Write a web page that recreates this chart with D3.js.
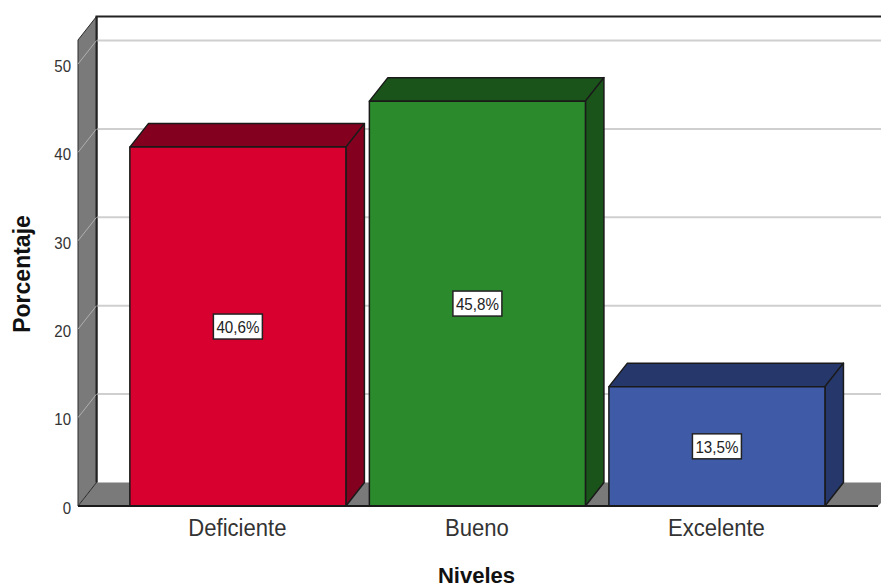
<!DOCTYPE html>
<html lang="es">

<head>
    <meta charset="UTF-8">
    <title>Niveles</title>
    <script src="https://d3js.org/d3.v7.min.js"></script>
    <style>
        body {
            margin: 0;
            background-color: #ffffff;
        }

        svg {
            display: block;
        }

        text {
            font-family: 'Liberation Sans', Arial, sans-serif;
            fill: #333333;
        }
    </style>
</head>

<body>
    <svg></svg>

    <script>
        const categories = ["Deficiente", "Bueno", "Excelente"];
        const percentages = [40.6, 45.8, 13.5];
        const valueLabels = ["40,6%", "45,8%", "13,5%"];
        const yTicks = [0, 10, 20, 30, 40, 50];
        const frontColors = ["#d7002e", "#2a8a2c", "#3f5ba8"];
        const darkColors = ["#84001f", "#1a541a", "#26386b"];

        const width = 881;
        const height = 588;
        const depthX = 18.5;   // 3d offset of the back wall
        const depthY = 23.5;
        const wallGrey = "#7a7a7a";
        const edge = "#1a1a1a";

        const svg = d3.select("svg")
            .attr("width", width)
            .attr("height", height);

        const y = d3.scaleLinear().domain([0, 50]).range([506, 64]);
        const x = d3.scaleBand()
            .domain(categories)
            .range([77.4, 877.4])
            .paddingInner(0.098)
            .paddingOuter(0.219);

        const yTop = y(50) - 24;   // top of the front side of the wall

        // the original font is taller and narrower than Liberation Sans
        function squeeze(sel, factor) {
            sel.each(function () {
                const len = this.getComputedTextLength();
                d3.select(this)
                    .attr("textLength", len * factor)
                    .attr("lengthAdjust", "spacingAndGlyphs");
            });
        }

        // back wall
        svg.append("path")
            .attr("d", `M${78 + depthX},${y(0) - depthY}V${yTop - depthY}H${width}`)
            .attr("fill", "none")
            .attr("stroke", "#222")
            .attr("stroke-width", 2);

        // floor
        svg.append("path")
            .attr("d", `M78,${y(0)}L${78 + depthX},${y(0) - depthY}H${width}V${y(0) - 3}L878,${y(0)}Z`)
            .attr("fill", wallGrey);

        // left wall
        svg.append("path")
            .attr("d", `M78,${y(0)}V${yTop}L${78 + depthX},${yTop - depthY}V${y(0) - depthY}Z`)
            .attr("fill", wallGrey)
            .attr("stroke", "#2a2a2a")
            .attr("stroke-width", 1);

        svg.append("line")
            .attr("x1", 78 + depthX).attr("x2", 78 + depthX)
            .attr("y1", yTop - depthY).attr("y2", y(0) - depthY)
            .attr("stroke", "#222").attr("stroke-width", 2);

        // gridlines
        const gridTicks = yTicks.filter(d => d > 0);

        svg.append("g").selectAll("line")
            .data(gridTicks)
            .enter().append("line")
            .attr("x1", 78 + depthX + 1)
            .attr("x2", width)
            .attr("y1", d => y(d) - depthY)
            .attr("y2", d => y(d) - depthY)
            .attr("stroke", "#cfcfcf")
            .attr("stroke-width", 2);

        svg.append("g").selectAll("line")
            .data(gridTicks)
            .enter().append("line")
            .attr("x1", 78)
            .attr("x2", 78 + depthX)
            .attr("y1", d => y(d))
            .attr("y2", d => y(d) - depthY)
            .attr("stroke", "#b0b0b0")
            .attr("stroke-width", 1);

        // bars
        const rows = categories.map((c, i) => ({
            category: c,
            value: percentages[i],
            label: valueLabels[i],
            front: frontColors[i],
            dark: darkColors[i]
        }));

        const bar = svg.append("g").selectAll("g")
            .data(rows)
            .enter().append("g")
            .attr("stroke", "#1a1a1a")
            .attr("stroke-width", 1.5)
            .attr("stroke-linejoin", "round");

        bar.append("path")
            .attr("fill", d => d.dark)
            .attr("d", d => {
                const x0 = x(d.category);
                const x1 = x0 + x.bandwidth();
                const t = y(d.value);
                return `M${x0},${t}L${x0 + depthX},${t - depthY}H${x1 + depthX}L${x1},${t}Z`;
            });

        bar.append("path")
            .attr("fill", d => d.dark)
            .attr("d", d => {
                const x1 = x(d.category) + x.bandwidth();
                const t = y(d.value);
                return `M${x1},${t}L${x1 + depthX},${t - depthY}V${y(0) - depthY}L${x1},${y(0)}Z`;
            });

        bar.append("rect")
            .attr("x", d => x(d.category))
            .attr("y", d => y(d.value))
            .attr("width", x.bandwidth())
            .attr("height", d => y(0) - y(d.value))
            .attr("fill", d => d.front);

        // axis baseline
        svg.append("line")
            .attr("x1", 78).attr("x2", 878)
            .attr("y1", y(0)).attr("y2", y(0))
            .attr("stroke", edge).attr("stroke-width", 2);

        // value labels
        const label = svg.append("g").selectAll("g")
            .data(rows)
            .enter().append("g")
            .attr("transform", d => `translate(${x(d.category) + x.bandwidth() / 2},${(y(d.value) + y(0)) / 2})`);

        label.append("rect")
            .attr("x", -24.5).attr("y", -12.5)
            .attr("width", 49).attr("height", 25)
            .attr("fill", "#fff")
            .attr("stroke", "#222")
            .attr("stroke-width", 1.5);

        label.append("text")
            .attr("text-anchor", "middle")
            .attr("dy", 6.5)
            .attr("font-size", 16.5)
            .attr("textLength", 43)
            .attr("lengthAdjust", "spacingAndGlyphs")
            .style("fill", "#222")
            .text(d => d.label);

        // axes
        const yAxis = svg.append("g")
            .attr("transform", "translate(78,0)")
            .call(d3.axisLeft(y).tickValues(yTicks).tickSize(0).tickPadding(7));
        yAxis.select(".domain").remove();
        yAxis.selectAll("text")
            .attr("font-size", 16.5)
            .attr("dy", "0.44em")
            .style("font-family", "'Liberation Sans', Arial, sans-serif")
            .call(squeeze, 0.91);

        const xAxis = svg.append("g")
            .attr("transform", `translate(0,${y(0)})`)
            .call(d3.axisBottom(x).tickSize(0).tickPadding(14));
        xAxis.select(".domain").remove();
        xAxis.selectAll("text")
            .attr("font-size", 23)
            .attr("dx", -0.5)
            .style("font-family", "'Liberation Sans', Arial, sans-serif")
            .call(squeeze, 0.96);

        // titles
        svg.append("text")
            .attr("text-anchor", "middle")
            .attr("transform", "translate(30,274) rotate(-90)")
            .attr("font-size", 23)
            .attr("font-weight", "bold")
            .style("fill", "#111")
            .text("Porcentaje")
            .call(squeeze, 1);

        svg.append("text")
            .attr("x", 476.5)
            .attr("y", 583)
            .attr("text-anchor", "middle")
            .attr("font-size", 22.5)
            .attr("font-weight", "bold")
            .style("fill", "#111")
            .text("Niveles")
            .call(squeeze, 0.98);
    </script>

</body>

</html>
